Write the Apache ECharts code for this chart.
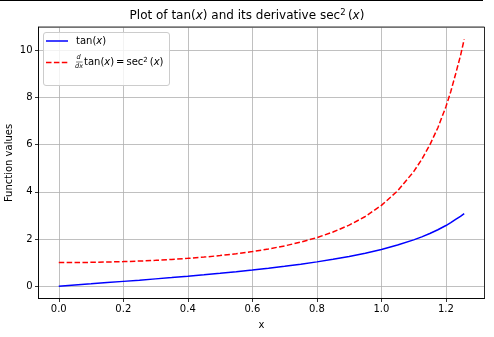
<!DOCTYPE html>
<html><head><meta charset="utf-8">
<script src="https://cdn.jsdelivr.net/npm/echarts@6/dist/echarts.min.js"></script>
<style>html,body{margin:0;padding:0;background:#fff}#c{width:494px;height:337px}</style>
</head><body><div id="c"></div>
<script>
var xValues = [0, 0.05, 0.1, 0.15, 0.2, 0.25, 0.3, 0.35, 0.4, 0.45, 0.5, 0.55, 0.6, 0.65, 0.7, 0.75, 0.8, 0.85, 0.9, 0.95, 1.0, 1.05, 1.1, 1.125, 1.15, 1.175, 1.2, 1.215, 1.23, 1.245, 1.2566];
var tanValues = [0, 0.050, 0.100, 0.151, 0.203, 0.255, 0.309, 0.365, 0.423, 0.483, 0.546, 0.613, 0.684, 0.760, 0.842, 0.932, 1.030, 1.138, 1.260, 1.398, 1.557, 1.743, 1.965, 2.092, 2.234, 2.392, 2.572, 2.694, 2.829, 2.962, 3.078];
var sec2Values = [1.000, 1.003, 1.010, 1.023, 1.041, 1.065, 1.096, 1.133, 1.179, 1.233, 1.298, 1.376, 1.468, 1.578, 1.709, 1.868, 2.060, 2.296, 2.588, 2.956, 3.426, 4.039, 4.860, 5.376, 5.993, 6.722, 7.616, 8.257, 9.003, 9.773, 10.472];
var seriesNames = ['tan(x)', 'd/dx tan(x) = sec²(x)'];
var titleText = 'Plot of tan(x) and its derivative sec²(x)';
var xLabel = 'x';
var yLabel = 'Function values';

function pairs(ys) { return xValues.map(function (x, i) { return [x, ys[i]]; }); }

var FONT = 'DejaVu Sans';
var chart = echarts.init(document.getElementById('c'), null, {renderer: 'canvas'});
chart.setOption({
  animation: false,
  backgroundColor: '#fff',
  textStyle: {fontFamily: FONT},
  grid: {left: 38.5, right: 9.5, top: 27, bottom: 38.5, containLabel: false, outerBoundsMode: 'none', show: false},
  xAxis: {
    type: 'value', min: -0.0628, max: 1.3195, splitNumber: 7,
    name: xLabel, nameLocation: 'middle', nameGap: 22,
    nameTextStyle: {fontSize: 10, color: '#000', fontFamily: FONT},
    axisLine: {show: true, onZero: false, lineStyle: {color: '#000', width: 0.8}},
    axisTick: {show: true, length: 3.5, lineStyle: {color: '#000', width: 0.8}},
    axisLabel: {fontSize: 10, color: '#000', margin: 6, showMinLabel: false, showMaxLabel: false,
      formatter: function (v) { return v.toFixed(1); }},
    splitLine: {show: true, lineStyle: {color: '#b0b0b0', width: 0.8}}
  },
  yAxis: {
    type: 'value', min: -0.5236, max: 10.995, splitNumber: 6,
    axisLine: {show: true, onZero: false, lineStyle: {color: '#000', width: 0.8}},
    axisTick: {show: true, length: 3.5, lineStyle: {color: '#000', width: 0.8}},
    axisLabel: {fontSize: 10, color: '#000', margin: 6, showMinLabel: false, showMaxLabel: false},
    splitLine: {show: true, lineStyle: {color: '#b0b0b0', width: 0.8}}
  },
  series: [
    {name: seriesNames[0], type: 'line', data: pairs(tanValues), showSymbol: false, symbol: 'none',
      lineStyle: {color: '#0000ff', width: 1.5}, itemStyle: {color: '#0000ff'}, z: 3},
    {name: seriesNames[1], type: 'line', data: pairs(sec2Values), showSymbol: false, symbol: 'none',
      lineStyle: {color: '#ff0000', width: 1.5, type: [5.5, 2.4]}, itemStyle: {color: '#ff0000'}, z: 3}
  ],
  graphic: [
    {type: 'rect', shape: {x: 0, y: 0, width: 483, height: 1}, style: {fill: '#000'}, silent: true},
    {type: 'rect', shape: {x: 38.5, y: 27, width: 446, height: 271.5}, style: {fill: 'none', stroke: '#000', lineWidth: 0.8}, silent: true, z: 10},
    {type: 'text', x: 9, y: 163, rotation: Math.PI / 2, style: {text: yLabel, font: '10px "DejaVu Sans"', fill: '#000', align: 'center', verticalAlign: 'middle'}},
    {type: 'text', left: 'center', top: 8, style: {
      text: 'Plot of tan({i|x}) and its derivative sec{sup|2}\u2009({i|x})',
      font: '12px "DejaVu Sans"', fill: '#000',
      rich: {i: {fontStyle: 'italic', fontSize: 12, fontFamily: FONT}, sup: {fontSize: 8.5, verticalAlign: 'top', padding: [0, 0, 6, 0], fontFamily: FONT}}
    }},
    {type: 'rect', shape: {x: 43.5, y: 32.5, width: 126, height: 53, r: 2.5}, style: {fill: 'rgba(255,255,255,0.8)', stroke: '#cccccc', lineWidth: 1}, z: 20},
    {type: 'line', shape: {x1: 46, y1: 41, x2: 68, y2: 41}, style: {stroke: '#0000ff', lineWidth: 1.5}, z: 21},
    {type: 'text', x: 76, y: 41, style: {text: 'tan({i|x})', font: '10px "DejaVu Sans"', fill: '#000', verticalAlign: 'middle',
      rich: {i: {fontStyle: 'italic', fontSize: 10, fontFamily: FONT}}}, z: 21},
    {type: 'line', shape: {x1: 46, y1: 62.5, x2: 68, y2: 62.5}, style: {stroke: '#ff0000', lineWidth: 1.5, lineDash: [5.5, 2.4]}, z: 21},
    {type: 'text', x: 78.5, y: 57.5, style: {text: 'd', font: 'italic 6.5px "DejaVu Sans"', fill: '#000', align: 'center', verticalAlign: 'middle'}, z: 21},
    {type: 'line', shape: {x1: 76, y1: 62, x2: 82.5, y2: 62}, style: {stroke: '#000', lineWidth: 0.5}, z: 21},
    {type: 'text', x: 79, y: 66.5, style: {text: 'dx', font: 'italic 6.5px "DejaVu Sans"', fill: '#000', align: 'center', verticalAlign: 'middle'}, z: 21},
    {type: 'text', x: 84, y: 62.5, style: {text: 'tan({i|x})\u2009=\u2009sec{sup|2}\u2009({i|x})', font: '10px "DejaVu Sans"', fill: '#000', verticalAlign: 'middle',
      rich: {i: {fontStyle: 'italic', fontSize: 10, fontFamily: FONT}, sup: {fontSize: 7, verticalAlign: 'top', padding: [0, 0, 5, 0], fontFamily: FONT}}}, z: 21}
  ]
});
</script></body></html>
